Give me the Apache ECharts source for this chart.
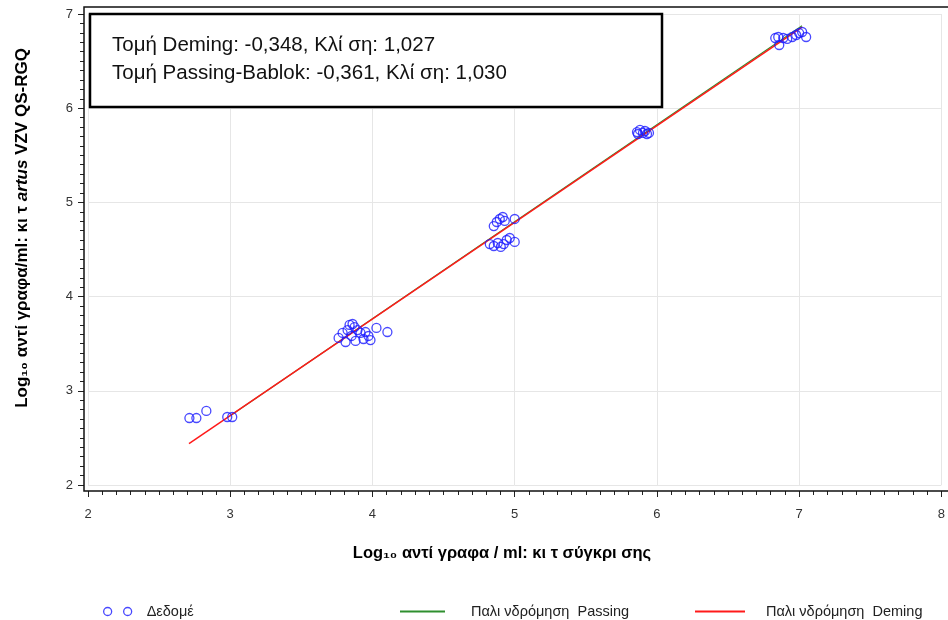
<!DOCTYPE html>
<html>
<head>
<meta charset="utf-8">
<script src="https://cdn.jsdelivr.net/npm/echarts@6/dist/echarts.min.js"></script>
<style>
  html, body { margin: 0; padding: 0; background: #fff; }
  #chart { width: 948px; height: 620px; }
</style>
</head>
<body>
<div id="chart"></div>
<script>
// Log10 copies/ml, comparison kit (x) vs artus VZV QS-RGQ (y)
const compX = [
  2.713, 2.762, 2.832, 2.979, 3.014,
  3.762, 3.790, 3.811, 3.825, 3.839, 3.860, 3.874, 3.853, 3.881, 3.895, 3.916, 3.937, 3.951, 3.972, 3.986, 4.028, 4.105,
  4.853, 4.874, 4.895, 4.916, 4.930, 5.000,
  4.825, 4.853, 4.881, 4.902, 4.923, 4.944, 4.965, 5.000,
  5.860, 5.881, 5.902, 5.930, 5.916, 5.867, 5.944,
  6.832, 6.853, 6.860, 6.888, 6.916, 6.951, 6.979, 7.000, 7.021, 7.049
]
const rgqY = [
  2.711, 2.711, 2.786, 2.722, 2.722,
  3.561, 3.614, 3.518, 3.645, 3.699, 3.709, 3.677, 3.582, 3.529, 3.645, 3.614, 3.550, 3.624, 3.582, 3.539, 3.667, 3.624,
  4.749, 4.792, 4.824, 4.845, 4.803, 4.824,
  4.558, 4.537, 4.569, 4.527, 4.558, 4.601, 4.622, 4.580,
  5.747, 5.769, 5.737, 5.726, 5.758, 5.726, 5.737,
  6.745, 6.756, 6.671, 6.745, 6.735, 6.756, 6.777, 6.798, 6.809, 6.756
]
// regression line end points
const passingX = [3.00, 7.02]
const passingY = [2.735, 6.875]
const demingX = [2.71, 7.02]
const demingY = [2.44, 6.86]

const statLines = [
  'Τομή Deming: -0,348, Κλί ση: 1,027',
  'Τομή Passing-Bablok: -0,361, Κλί ση: 1,030'
]
const legendNames = ['Δεδομέ', 'Παλι νδρόμηση  Passing', 'Παλι νδρόμηση  Deming']

const FONT = 'Liberation Sans'
const zip = (xs, ys) => xs.map((x, i) => [x, ys[i]])

const chart = echarts.init(document.getElementById('chart'))

const legendText = { fontSize: 14.5, color: '#222', fontFamily: FONT }

const option = {
  animation: false,
  backgroundColor: '#fff',
  grid: { left: 88, right: 2, top: 14, bottom: 135 },
  xAxis: {
    type: 'value',
    min: 2,
    max: 8,
    interval: 1,
    offset: 6,
    axisLine: { show: false, onZero: false },
    axisTick: { show: true, length: 6, lineStyle: { color: '#222', width: 1 } },
    minorTick: { show: true, splitNumber: 10, length: 4, lineStyle: { color: '#222', width: 1 } },
    axisLabel: { margin: 17, fontSize: 13, color: '#333', fontFamily: FONT },
    splitLine: { show: true, lineStyle: { color: '#e6e6e6', width: 1 } }
  },
  yAxis: {
    type: 'value',
    min: 2,
    max: 7,
    interval: 1,
    offset: 4,
    axisLine: { show: false, onZero: false },
    axisTick: { show: true, length: 6, lineStyle: { color: '#222', width: 1 } },
    minorTick: { show: true, splitNumber: 10, length: 4, lineStyle: { color: '#222', width: 1 } },
    axisLabel: { margin: 11, fontSize: 13, color: '#333', fontFamily: FONT },
    splitLine: { show: true, lineStyle: { color: '#e6e6e6', width: 1 } }
  },
  legend: [
    {
      data: [{
        name: legendNames[0],
        icon: 'path://M0,4 A4,4 0 1,0 8,4 A4,4 0 1,0 0,4 Z M20,4 A4,4 0 1,0 28,4 A4,4 0 1,0 20,4 Z',
        itemStyle: { color: 'transparent', borderColor: '#1a1aff', borderWidth: 1.3 }
      }],
      left: 98,
      top: 599,
      itemWidth: 28,
      itemHeight: 8,
      textStyle: Object.assign({ padding: [0, 0, 0, 10] }, legendText)
    },
    {
      data: [{ name: legendNames[1], icon: 'rect' }],
      left: 395,
      top: 599,
      itemWidth: 45,
      itemHeight: 2,
      textStyle: Object.assign({ padding: [0, 0, 0, 21] }, legendText)
    },
    {
      data: [{ name: legendNames[2], icon: 'rect' }],
      left: 690,
      top: 599,
      itemWidth: 50,
      itemHeight: 2,
      textStyle: Object.assign({ padding: [0, 0, 0, 16] }, legendText)
    }
  ],
  series: [
    {
      name: legendNames[0],
      type: 'scatter',
      symbol: 'circle',
      symbolSize: 9,
      z: 4,
      itemStyle: { color: 'transparent', borderColor: '#1a1aff', borderWidth: 1.3 },
      data: zip(compX, rgqY)
    },
    {
      name: legendNames[1],
      type: 'line',
      symbol: 'none',
      z: 2,
      itemStyle: { color: '#2f8f2f' },
      lineStyle: { color: '#2f8f2f', width: 1.2 },
      data: zip(passingX, passingY)
    },
    {
      name: legendNames[2],
      type: 'line',
      symbol: 'none',
      z: 3,
      itemStyle: { color: '#ff1a1a' },
      lineStyle: { color: '#ff1a1a', width: 1.5 },
      data: zip(demingX, demingY)
    }
  ],
  graphic: [
    // plot frame
    {
      type: 'polyline',
      z: 50,
      silent: true,
      shape: { points: [[948, 7], [84, 7], [84, 491], [948, 491]] },
      style: { fill: null, stroke: '#111', lineWidth: 1.5 }
    },
    // statistics box
    {
      type: 'rect',
      z: 60,
      shape: { x: 90, y: 14, width: 572, height: 93 },
      style: { fill: '#fff', stroke: '#000', lineWidth: 2.5 }
    },
    {
      type: 'text',
      z: 61,
      left: 112,
      top: 35,
      style: { text: statLines[0], fontSize: 20.5, fontFamily: FONT, fill: '#111' }
    },
    {
      type: 'text',
      z: 61,
      left: 112,
      top: 63,
      style: { text: statLines[1], fontSize: 20.5, fontFamily: FONT, fill: '#111' }
    },
    // axis titles
    {
      type: 'text',
      z: 61,
      x: 22,
      y: 228,
      rotation: Math.PI / 2,
      style: {
        text: '{b|Log₁₀ αντί γραφα/ml: κι τ }{i|artus}{b| VZV QS-RGQ}',
        align: 'center',
        verticalAlign: 'middle',
        rich: {
          b: { fontSize: 17, fontWeight: 'bold', fontFamily: FONT, fill: '#000' },
          i: { fontSize: 17, fontWeight: 'bold', fontStyle: 'italic', fontFamily: FONT, fill: '#000' }
        }
      }
    },
    {
      type: 'text',
      z: 61,
      x: 502,
      y: 553,
      style: {
        text: 'Log₁₀ αντί γραφα / ml: κι τ σύγκρι σης',
        align: 'center',
        verticalAlign: 'middle',
        fontSize: 16.5,
        fontWeight: 'bold',
        fontFamily: FONT,
        fill: '#000'
      }
    }
  ]
}

chart.setOption(option)
</script>
</body>
</html>
